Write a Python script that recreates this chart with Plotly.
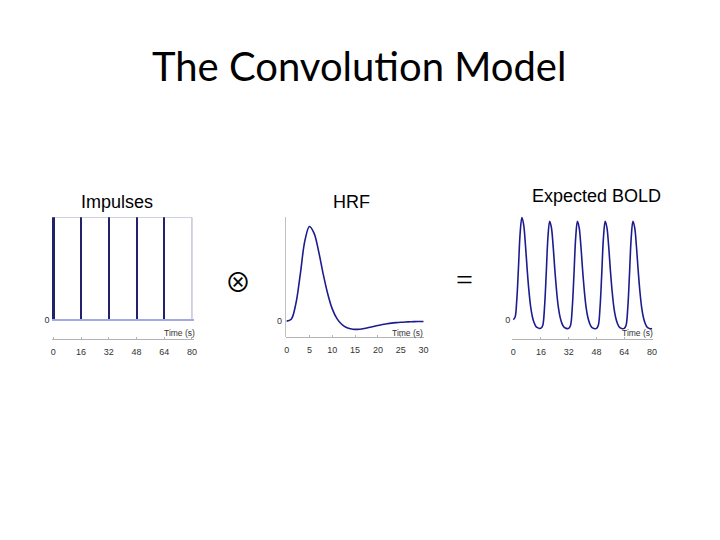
import plotly.graph_objects as go

# ---------------- data ----------------
impulse_times = [0, 16, 32, 48, 64]
impulse_heights = [1, 1, 1, 1, 1]

hrf_t = list(range(0, 31))
hrf_v = [0.0, 0.02, 0.18, 0.5, 0.85, 1.0, 0.93, 0.74, 0.5, 0.29, 0.13, 0.03,
         -0.03, -0.065, -0.08, -0.087, -0.085, -0.078, -0.068, -0.057, -0.046,
         -0.036, -0.028, -0.021, -0.016, -0.012, -0.009, -0.007, -0.005, -0.004, -0.003]

bold_t = list(range(0, 81))
bold_v = [0.0, 0.02, 0.18, 0.5, 0.85, 1.0, 0.93, 0.74, 0.5, 0.29, 0.13, 0.03,
          -0.03, -0.065, -0.08, -0.087,
          -0.085, -0.058, 0.112, 0.443, 0.804, 0.964, 0.902, 0.719, 0.484, 0.278,
          0.121, 0.023, -0.035, -0.069, -0.083, -0.089,
          -0.086, -0.059, 0.111, 0.442, 0.803, 0.963, 0.901, 0.718, 0.483, 0.277,
          0.120, 0.022, -0.036, -0.070, -0.084, -0.090,
          -0.087, -0.059, 0.111, 0.442, 0.803, 0.963, 0.901, 0.718, 0.483, 0.277,
          0.120, 0.022, -0.036, -0.070, -0.084, -0.090,
          -0.087, -0.059, 0.111, 0.442, 0.803, 0.963, 0.901, 0.718, 0.483, 0.277,
          0.120, 0.022, -0.036, -0.070, -0.084, -0.090, -0.087]

ticks_80 = [0, 16, 32, 48, 64, 80]
ticks_30 = [0, 5, 10, 15, 20, 25, 30]

# page has an 8px body margin: figure is 712x532 placed at (8, 8)
OFF = 8
W, H = 720 - OFF, 540 - OFF
def px_x(p):
    return (p - OFF) / W
def px_y(p):
    return 1 - (p - OFF) / H

TICKFONT = dict(family="Liberation Sans, Arial", size=9, color="#333333")
NAVY = "#1c1c8e"

fig = go.Figure()

# Panel 1: impulses
fig.add_trace(go.Bar(x=impulse_times, y=impulse_heights, width=0.9,
                     marker=dict(color="#22226a", line=dict(width=0)),
                     xaxis="x", yaxis="y", showlegend=False))
# Panel 2: HRF
fig.add_trace(go.Scatter(x=hrf_t, y=hrf_v, mode="lines",
                         line=dict(color=NAVY, width=1.6, shape="spline", smoothing=1.0),
                         xaxis="x2", yaxis="y2", showlegend=False))
# Panel 3: expected BOLD
fig.add_trace(go.Scatter(x=bold_t, y=bold_v, mode="lines",
                         line=dict(color=NAVY, width=1.6, shape="spline", smoothing=1.0),
                         xaxis="x3", yaxis="y3", showlegend=False))

def xaxis_cfg(dom, rng, ticks, pos):
    return dict(domain=dom, range=rng, anchor="free", position=pos,
                showline=True, linecolor="#b4b4b4", linewidth=1,
                ticks="inside", ticklen=2, tickcolor="#b4b4b4",
                tickvals=ticks, ticktext=[str(t) for t in ticks],
                tickfont=TICKFONT, ticklabelstandoff=4,
                showgrid=False, zeroline=False, fixedrange=True)

def yaxis_cfg(dom, rng, anchor, showline, zl):
    d = dict(domain=dom, range=rng, anchor=anchor,
             showline=showline, linecolor="#c0c0c0", linewidth=1,
             ticks="", tickvals=[0], ticktext=["0"], tickfont=TICKFONT,
             showgrid=False, fixedrange=True, ticklabelstandoff=1)
    if zl:
        d.update(zeroline=True, zerolinecolor="#a4a8e6", zerolinewidth=2)
    else:
        d.update(zeroline=False)
    return d

fig.update_layout(
    width=W, height=H, margin=dict(l=0, r=0, t=0, b=0),
    paper_bgcolor="white", plot_bgcolor="rgba(0,0,0,0)",
    bargap=0,
    xaxis=xaxis_cfg([px_x(49.95), px_x(193.25)], [-1, 81], ticks_80, px_y(340.7)),
    yaxis=yaxis_cfg([px_y(323.8), px_y(218)], [-0.03, 1.0], "x", False, True),
    xaxis2=xaxis_cfg([px_x(286.08), px_x(425.92)], [-0.2, 30.2], ticks_30, px_y(338.3)),
    yaxis2=yaxis_cfg([px_y(338.3), px_y(217.8)], [-0.168, 1.1], "x2", True, False),
    xaxis3=xaxis_cfg([px_x(514.63), px_x(656.37)], [-0.5, 80.5], ticks_80, px_y(340.7)),
    yaxis3=yaxis_cfg([px_y(332.99), px_y(214.2)], [-0.12, 1.04], "x3", False, False),
)

# frame around the impulse panel
fig.add_shape(type="rect", xref="x", yref="y", x0=0, x1=80, y0=0, y1=1,
              line=dict(color="#a8a8c8", width=1), layer="below")

ann = []
ann.append(dict(text="The Convolution Model", x=px_x(360), y=px_y(66), xref="paper", yref="paper",
                showarrow=False, xanchor="center", yanchor="middle",
                font=dict(family="Lato", size=40, color="black")))
for txt, cx, cy in [("Impulses", 115.5, 203), ("HRF", 352.5, 203), ("Expected BOLD", 599, 197)]:
    ann.append(dict(text=txt, x=px_x(cx), y=px_y(cy), xref="paper", yref="paper",
                    showarrow=False, xanchor="center", yanchor="middle",
                    font=dict(family="Liberation Sans, Arial", size=18, color="black")))
for rx, cy in [(196.7, 334), (426.7, 334), (658, 334.7)]:
    ann.append(dict(text="Time (s)", x=px_x(rx), y=px_y(cy), xref="paper", yref="paper",
                    showarrow=False, xanchor="right", yanchor="middle",
                    font=dict(family="Liberation Sans, Arial", size=8.5, color="#333333")))
ann.append(dict(text="\u2297", x=px_x(238.3), y=px_y(282), xref="paper", yref="paper",
                showarrow=False, xanchor="center", yanchor="middle",
                font=dict(family="Noto Sans CJK JP, DejaVu Sans", size=26, color="black")))
ann.append(dict(text="=", x=px_x(466.7), y=px_y(281), xref="paper", yref="paper",
                showarrow=False, xanchor="center", yanchor="middle",
                font=dict(family="Liberation Serif", size=30, color="black")))
fig.update_layout(annotations=ann)

fig.write_html("out.html")
